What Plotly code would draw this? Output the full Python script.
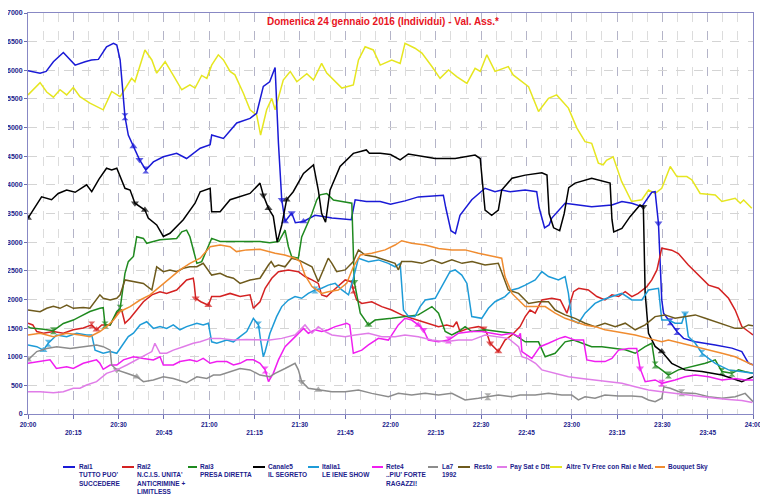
import plotly.graph_objects as go

# ---- data: (minutes after 20:00, value) ----
rai1 = [(0,5990),(4,5950),(6,5980),(8.4,6150),(11.7,6310),(15.6,6090),(18.9,6150),(21,6180),(23.3,6190),(26,6410),(28.3,6470),(29.4,6440),(30.5,6180),(32.1,5190),(33.2,4870),(34.9,4670),(36.9,4440),(39,4260),(41.5,4400),(44.8,4490),(49.2,4550),(52.5,4460),(57,4640),(60.3,4700),(60.8,4870),(64.7,4810),(69.1,5080),(73.5,5160),(75.7,5250),(77.9,5720),(80,5800),(81.8,6050),(82.9,4730),(84,3740),(85.1,3360),(87.3,3510),(88.5,3340),(91.2,3360),(95,3470),(97.2,3450),(100.6,3420),(107,3390),(108.3,3740),(112,3710),(116.6,3710),(120,3660),(124.8,3720),(129.2,3790),(137.5,3820),(138.3,3600),(140,3200),(141.5,3150),(143,3470),(146.9,3740),(151.3,3940),(154.6,3880),(156.8,3910),(159.6,3880),(164.6,3910),(168.4,3880),(169.2,3600),(171,3250),(172.5,3300),(173.4,3420),(177.8,3680),(182.2,3650),(186.6,3620),(193.3,3650),(196.6,3710),(199.9,3680),(203.2,3620),(206.5,3870),(207.6,3880),(208.7,3330),(209.8,1990),(210.4,1760),(212.6,1610),(214.8,1440),(217,1320),(220.9,1260),(227.5,1205),(233,1150),(236.3,1090),(238.5,890),(240,860)]
rai2 = [(0,1585),(1.6,1555),(2.9,1440),(5.1,1410),(8.4,1440),(11.7,1410),(15,1470),(18.3,1500),(21.1,1555),(22.7,1470),(24.4,1555),(27.2,1555),(29.4,1760),(31,1815),(32.1,1585),(33.8,1670),(36,1815),(38.2,1960),(41,2080),(43.7,2135),(45.9,2105),(49.2,2165),(51.4,2280),(52.5,2340),(54.7,2370),(55,2280),(55.5,2020),(57.2,1960),(59.7,1900),(60.8,2050),(63.6,2050),(66.9,2105),(70.2,2050),(73.5,2080),(74.6,1845),(76.8,1960),(78.5,2195),(80.7,2370),(82.9,2485),(86.2,2515),(89.5,2485),(91.7,2400),(94,2340),(96.1,2280),(97.2,2080),(98.9,2050),(100.6,2135),(102.7,2225),(105,2340),(107,2310),(107.7,2165),(108.8,1990),(110.5,1930),(113.8,1960),(117.1,1875),(120.4,1815),(123.7,1730),(127,1670),(130.4,1610),(133.7,1555),(135.9,1525),(138.6,1555),(140.8,1525),(141.9,1610),(143,1440),(145.8,1495),(149.1,1525),(150.8,1495),(151.9,1410),(153,1235),(155.7,1090),(157.9,1290),(160.2,1380),(162.9,1525),(164.6,1700),(166.2,1815),(167.9,1760),(170.1,1990),(173.4,2020),(176.2,1990),(178.4,1760),(180.6,2135),(182.3,2195),(185.5,2165),(188.3,2050),(191,1990),(193.3,2080),(195.5,2050),(197.7,2135),(199.9,2050),(202,2105),(204.9,2225),(206.5,2340),(208.2,2515),(209.8,2895),(213.1,2860),(215.3,2800),(218.6,2600),(221.9,2425),(225.3,2250),(228.6,2195),(231.9,2020),(234.1,1815),(236.3,1525),(238.5,1440),(240,1380)]
rai3 = [(0,1525),(1,1500),(5.1,1480),(8.4,1455),(11.7,1580),(15,1640),(17.2,1700),(20.5,1790),(23.8,1845),(24.9,1855),(25.5,1555),(27.2,1555),(29.4,1790),(30.5,1845),(32.1,2455),(33.2,2660),(34.9,2750),(36,3095),(38.2,3065),(39.3,2980),(41.5,3010),(43.7,3040),(45.9,3050),(49.2,3065),(50.9,3180),(52.5,3210),(53.6,3095),(54.7,2860),(55.9,2630),(57.5,2660),(59.2,2860),(60.8,3065),(63.6,3010),(68,3010),(72.4,3010),(76.8,3010),(80,2990),(83,3010),(85.1,3210),(86.2,2920),(87.3,2745),(89.5,2720),(90.6,3090),(94,3500),(95.6,3740),(96.7,3825),(98.9,3850),(101.1,3735),(104.4,3705),(107.2,3680),(108,2310),(110,1760),(112.7,1555),(114.9,1640),(120.4,1670),(124.8,1700),(129.2,1730),(133.7,1875),(135.9,1760),(138.1,1440),(140.3,1380),(142.5,1440),(144.7,1525),(146.9,1440),(151.3,1470),(155.7,1440),(160.2,1410),(162.9,1320),(164.6,1260),(169,1260),(171.2,1000),(174.5,1060),(177.8,1260),(180.6,1290),(183.3,1235),(186.6,1175),(190,1175),(193.3,1150),(197.7,1120),(201,1060),(204.3,1175),(206.5,1235),(207.6,855),(209.8,770),(212,680),(215.3,770),(219.8,825),(224.2,885),(227.5,945),(229.7,740),(233,710),(235.2,770),(237.4,740),(240,710)]
canale5 = [(0,3420),(2.3,3620),(4.5,3790),(7.8,3740),(10,3850),(12.8,3910),(15.6,3870),(19.4,4000),(21.1,3880),(23.5,4100),(26,4290),(27.7,4260),(29.4,4290),(32.1,3940),(33.8,3910),(35.4,3680),(38.7,3560),(39.8,3420),(42.6,3300),(44.8,3100),(47,3155),(51.4,3390),(55.3,3680),(57,3880),(60.3,3940),(60.8,3530),(63.6,3530),(66.9,3740),(70.2,3790),(73.5,3850),(76.8,4030),(77.9,3820),(79.6,3590),(81.2,3450),(82.5,3000),(84,3300),(85.6,3740),(87.8,3880),(91.2,4200),(94.5,4350),(96.1,3910),(97.2,3500),(98.5,3350),(100,3910),(103.3,4320),(107.7,4550),(112,4610),(113,4550),(116.6,4550),(120,4530),(123.2,4435),(125.9,4540),(134.8,4460),(141.4,4460),(148,4520),(149.7,4460),(151.3,3560),(153.5,3470),(155.7,3560),(156.8,3910),(160.2,4115),(164.6,4170),(170.1,4210),(171.8,4170),(172.5,3500),(174,3250),(176,3200),(177.5,3500),(179,3950),(181.1,4030),(186.6,4115),(191,4057),(192.7,4030),(193.3,3400),(193.9,3180),(196.6,3240),(199.3,3445),(202.6,3650),(203.7,3620),(204.3,2110),(205.4,1410),(207.6,1180),(209.8,1090),(213.1,885),(217.5,770),(223.1,740),(229.7,680),(236.3,565),(240,650)]
italia1 = [(0,1205),(2.9,1175),(5.1,1115),(6.7,1235),(9.5,1380),(12.8,1350),(16.1,1410),(19.4,1380),(21.1,1380),(22.2,1115),(24.9,1060),(27.2,1090),(29.4,1060),(31,1175),(33.2,1350),(34.9,1410),(37.1,1555),(39.3,1610),(41.5,1495),(43.7,1525),(45.9,1495),(48.1,1555),(50.3,1470),(52.5,1525),(55.9,1585),(58,1555),(59.7,1585),(60.8,1260),(62.5,1235),(65.8,1290),(68,1260),(70.2,1350),(72.4,1440),(74.6,1670),(76.3,1555),(77,1290),(77.9,1000),(78.5,1090),(80.1,1410),(82.3,1700),(84,1875),(86.2,1990),(88.4,2050),(90.6,2020),(92.8,2105),(95,2165),(97.2,2195),(99.4,2250),(101.7,2280),(103.9,2165),(106.1,2080),(107.7,2370),(109.4,2720),(112.7,2660),(116,2690),(119.3,2630),(121.5,2570),(123.2,2630),(124.3,1815),(126,1700),(128.1,1700),(129.8,1875),(131.5,1990),(134.8,2020),(137,2225),(139.7,2485),(141.4,2515),(143.6,2425),(145.3,2280),(146.9,1700),(150.2,1670),(152.4,1845),(154.6,1960),(157.9,2050),(160.2,2165),(162.4,2195),(164.6,2250),(167.9,2340),(170.1,2485),(172.3,2400),(175.6,2340),(177.8,2400),(178.9,2105),(180,1640),(182.2,1585),(184.4,1760),(187.7,1930),(190,1990),(193.3,2050),(196.6,2105),(199.9,1990),(203.2,1990),(205.4,2165),(208.7,2195),(209.8,1640),(212,1640),(214.2,1585),(216.4,1585),(217.5,1760),(218.6,1350),(220.9,1235),(223.1,1060),(225.3,970),(227.5,885),(231.9,770),(236.3,740),(240,710)]
rete4 = [(0,885),(4,915),(7.3,945),(9.4,795),(12.8,825),(15,795),(18.3,885),(20.5,915),(22.7,945),(23.8,885),(24.9,780),(27.2,855),(29.4,855),(31.6,945),(34.9,1000),(38.2,970),(41.5,945),(43.7,1000),(44.8,855),(48.1,855),(50.3,915),(53.6,945),(55.9,915),(58,970),(60.3,885),(62.5,915),(65.8,915),(68,855),(70.2,885),(72.4,945),(74.6,945),(76.8,885),(78.5,770),(79.6,565),(81.2,710),(82.9,945),(85.1,1175),(87.3,1290),(89.5,1410),(91.2,1495),(92.8,1410),(95,1470),(97.2,1440),(99.4,1470),(101.7,1525),(103.9,1555),(105.5,1585),(106.5,1555),(107.7,1060),(110.5,1115),(112.7,1205),(116,1320),(119.3,1290),(122.6,1555),(124.8,1670),(127,1640),(129.2,1555),(130.9,1470),(132.5,1290),(135.9,1260),(139.2,1290),(142.5,1410),(146.9,1440),(150.2,1440),(153.5,1410),(156.8,1380),(160.2,1410),(162.4,1350),(163,1410),(163.5,1090),(166.8,970),(169.5,1175),(172.3,1235),(175.9,1320),(177.8,1350),(181.1,1290),(183.9,1290),(185,945),(187.7,915),(191,915),(193.3,970),(195.5,1115),(198.8,1145),(201.5,1145),(202.6,800),(204.3,565),(207.6,595),(209.8,535),(214.2,595),(217.5,650),(220.9,680),(225.3,650),(229.7,595),(234.1,620),(237.4,595),(240,595)]
la7 = [(0,945),(2.9,1090),(6.2,1145),(9.5,1175),(14,1145),(18.3,1175),(22.7,1205),(24.9,1175),(27.2,1115),(27.7,855),(29.4,770),(32.7,710),(36,650),(38.2,565),(41.5,595),(44.8,650),(48.1,620),(52.5,545),(55.9,650),(59.2,620),(61.4,680),(63.6,680),(66.9,740),(70.2,795),(73.5,770),(76.8,680),(80,650),(81.8,710),(85.1,795),(88.4,885),(89.5,770),(90.6,565),(92.8,450),(96.1,420),(100.6,390),(105,390),(109.4,420),(113.8,360),(119.3,300),(122.6,360),(127,330),(131.5,360),(135.9,330),(140.3,360),(144.7,245),(149.1,275),(152.2,300),(155.7,330),(160.2,300),(162.9,330),(167.9,330),(172.3,360),(176.7,330),(180,330),(182.2,245),(184.4,300),(187.7,275),(191,330),(195.5,315),(199.9,315),(203.2,300),(205.4,245),(207.6,215),(209.8,275),(210.5,475),(212.6,450),(216.4,370),(220.9,360),(225.3,300),(229.7,275),(234.1,300),(237.4,360),(240,215)]
resto = [(0,1815),(4,1785),(6.2,1845),(8.4,1880),(10.6,1845),(12.8,1900),(15,1845),(18.3,1860),(20.5,1845),(23.8,2080),(24.9,2020),(27.2,1990),(29.4,2020),(30.5,2080),(32.1,2340),(34.9,2310),(38.2,2280),(41,2165),(42.6,2570),(44.8,2485),(47,2515),(49.2,2485),(51.4,2545),(53.6,2570),(55.9,2570),(58,2630),(60.8,2425),(63.6,2455),(65.8,2400),(68,2370),(70.2,2280),(73.5,2340),(76.8,2370),(79.6,2600),(80.5,2660),(81.6,2570),(82.9,2600),(85.1,2570),(87.3,2720),(89.5,2690),(91.7,2630),(94,2570),(96.1,2310),(99.4,2720),(100.6,2630),(102.2,2485),(105,2515),(107.7,2660),(109.4,2865),(111.6,2775),(114.9,2745),(118.2,2690),(121.5,2630),(122.6,2515),(123.7,2660),(127,2660),(130.4,2630),(133.7,2690),(137,2630),(140.3,2690),(143.7,2630),(147,2660),(151.3,2600),(155.7,2630),(157.3,2400),(159,2165),(162.4,2105),(163.5,2050),(165.7,1930),(169,1960),(172.3,1960),(174.5,1815),(177.8,1730),(181.1,1670),(184.4,1585),(187.7,1525),(191,1585),(194.4,1525),(197.7,1585),(201,1470),(204.3,1555),(207.6,1700),(210.9,1730),(214.2,1670),(217.5,1700),(220.9,1730),(224.2,1670),(227.5,1610),(230.8,1555),(234.1,1495),(236.3,1495),(238.5,1555),(240,1540)]
pay_sat = [(0,390),(4,390),(8.4,370),(11.7,390),(15,450),(17.2,450),(19.4,505),(22.7,565),(26,710),(29.4,770),(32.7,855),(36,945),(38.7,1030),(41,1090),(42,1235),(43.7,1060),(45.9,1060),(48.1,1115),(51.4,1175),(54.7,1235),(57,1260),(60.3,1320),(63.6,1320),(68,1290),(72.4,1300),(76.8,1290),(80,1290),(84,1320),(88.4,1380),(91.7,1555),(94,1410),(96.1,1525),(98.3,1440),(100.6,1380),(105,1350),(108.3,1380),(112.7,1410),(117.1,1350),(121.5,1350),(124.8,1380),(129.2,1350),(133.7,1290),(138.1,1260),(142.5,1290),(146.9,1290),(151.3,1380),(155.7,1350),(159,1320),(162.4,1175),(163.5,1000),(165.3,970),(168,885),(170.1,770),(174.5,710),(178.9,650),(183.3,620),(187.7,595),(192.2,565),(196.6,535),(201,475),(205.4,420),(209.8,390),(214.2,360),(218.6,330),(223.1,300),(227.5,275),(231.9,255),(236.3,235),(239.8,200)]
altre_tv = [(0,5570),(4,5785),(6.2,5620),(8.4,5530),(10.6,5660),(12.8,5570),(15,5700),(17.2,5540),(20.5,5425),(22.7,5370),(24.9,5310),(27.7,5630),(30.5,5540),(34.3,5860),(35.4,5800),(38.7,6355),(41,6180),(42.6,5950),(45.4,6150),(48.1,5910),(50.9,5660),(53.6,5745),(55.3,5690),(57.5,5910),(59.2,5860),(60.8,6090),(63,6270),(64.7,6180),(66.9,5980),(68.5,5920),(71.3,5600),(73.5,5310),(75.7,5220),(77,4870),(79,5310),(80.7,5510),(81.8,5310),(84.5,5830),(86.8,5980),(89,5800),(92.3,5940),(94.5,5830),(97.2,6120),(98.9,5950),(101.1,5830),(103.9,5690),(107.7,5745),(109.4,6180),(111.6,6410),(114.3,6355),(116.6,6090),(120.4,6180),(123.2,6120),(124.8,6470),(128.1,6385),(130.4,6300),(133.7,6065),(136.4,5860),(139.2,6005),(141.9,5890),(145.3,5770),(148,6035),(149.7,5980),(151.9,6270),(154.6,5980),(159,6065),(160.6,5920),(165.7,5715),(169,5280),(172.3,5510),(175,5570),(178.9,5340),(181.7,4990),(184.4,4755),(186.6,4725),(188.8,4380),(190.4,4350),(191.5,4430),(193.7,4490),(196.5,4060),(199.8,3710),(203.2,3740),(205.4,3910),(207.6,3850),(209.8,3940),(212.6,4320),(214.8,4145),(218.1,4145),(219.8,4085),(222.5,3850),(227.5,3825),(229.7,3710),(234.1,3765),(235.8,3680),(236.9,3735),(239.6,3590)]
bouquet_sky = [(0,1380),(4,1410),(8.4,1350),(12.8,1410),(17.2,1380),(20.5,1350),(23.8,1440),(26,1525),(28.3,1640),(30.5,1790),(33.8,1875),(37.1,1990),(40.4,2080),(43.7,2225),(47,2370),(50.3,2515),(53.6,2630),(57,2720),(60.3,2920),(63.6,2950),(66.9,2920),(69,2835),(72.4,2865),(76.8,2875),(81.8,2805),(85,2775),(88.4,2720),(90.1,2660),(91.7,2425),(94,2225),(97.2,2105),(99.4,2135),(102.7,2165),(105.5,2280),(107.7,2570),(110,2775),(113.8,2805),(118.2,2865),(121.5,2950),(123.7,3025),(127,2980),(131.5,2950),(135.9,2890),(140.3,2865),(144.7,2865),(149.1,2805),(154.6,2745),(156.8,2720),(157.9,2400),(160.2,2105),(162.4,1990),(164.6,1875),(168,1875),(171.2,1875),(174.5,1760),(177.8,1670),(181.1,1610),(184.4,1555),(187.7,1525),(191,1470),(194.4,1440),(197.7,1410),(201,1380),(205.4,1320),(209.8,1260),(212,1290),(216.4,1235),(220.9,1175),(225.3,1120),(229.7,1060),(234.1,1000),(238.5,885),(240,855)]

# programme start/end markers: (minute, symbol)
rai1_marks = [(32.1,'hourglass'),(34.9,'triangle-up'),(36.9,'triangle-down'),(39,'hourglass'),(84,'triangle-down'),(85.1,'triangle-up'),(87.3,'triangle-down'),(91.2,'triangle-up'),(208.7,'triangle-down'),(212.6,'hourglass'),(214.8,'hourglass')]
rai2_marks = [(21.1,'hourglass'),(22.7,'triangle-up'),(55.5,'triangle-down'),(59.7,'triangle-up'),(107.7,'hourglass'),(150.8,'triangle-down'),(153,'triangle-down'),(155.7,'triangle-up')]
rai3_marks = [(8.4,'hourglass'),(25.5,'hourglass'),(30.5,'hourglass'),(108,'triangle-down'),(112.7,'triangle-up'),(207.6,'hourglass'),(212,'hourglass'),(229.7,'hourglass'),(233,'hourglass')]
canale5_marks = [(0,'triangle-up'),(35.4,'triangle-down'),(38.7,'triangle-up'),(77.9,'triangle-down'),(79.6,'triangle-up'),(85.6,'triangle-up'),(203.7,'triangle-down'),(209.8,'triangle-up')]
italia1_marks = [(5.1,'triangle-up'),(6.7,'hourglass'),(76.3,'hourglass'),(95,'hourglass'),(217.5,'triangle-down'),(223.1,'hourglass')]
rete4_marks = [(78.5,'hourglass'),(129.2,'triangle-up'),(130.9,'triangle-down'),(139.2,'hourglass'),(202.6,'triangle-down'),(209.8,'hourglass')]
la7_marks = [(0,'triangle-up'),(29.4,'triangle-down'),(36,'triangle-up'),(90.6,'triangle-down'),(96.1,'triangle-up'),(152.2,'hourglass'),(216.4,'hourglass')]

names = ["Rai1<br>TUTTO PUO'<br>SUCCEDERE", "Rai2<br>N.C.I.S. UNITA'<br>ANTICRIMINE +<br>LIMITLESS",
         "Rai3<br>PRESA DIRETTA", "Canale5<br>IL SEGRETO", "Italia1<br>LE IENE SHOW",
         "Rete4<br>..PIU' FORTE<br>RAGAZZI!", "La7<br>1992", "Resto", "Pay Sat e Dtt",
         "Altre Tv Free con Rai e Med.", "Bouquet Sky"]
series = [rai1, rai2, rai3, canale5, italia1, rete4, la7, resto, pay_sat, altre_tv, bouquet_sky]
marks = [rai1_marks, rai2_marks, rai3_marks, canale5_marks, italia1_marks, rete4_marks, la7_marks, [], [], [], []]
colors = ["#1a1ad6", "#d42222", "#1f8a1f", "#000000", "#1e9bd7", "#f01ef0", "#8c8c8c",
          "#6e5a1c", "#e07ce8", "#e6e620", "#f08c30"]

tick_vals = list(range(0, 241, 15))
tick_labels = ["20:00", "20:15", "20:30", "20:45", "21:00", "21:15", "21:30", "21:45", "22:00",
               "22:15", "22:30", "22:45", "23:00", "23:15", "23:30", "23:45", "24:00"]
y_ticks = list(range(0, 7001, 500))

NAVY = "#1c1c8c"
FONT = "Liberation Sans, Arial, sans-serif"

fig = go.Figure()
draw_order = [9, 0, 1, 2, 3, 4, 5, 6, 7, 8, 10]
for i in draw_order:
    t = [p[0] for p in series[i]]
    v = [p[1] for p in series[i]]
    sizes = [0] * len(t)
    syms = ["circle"] * len(t)
    for tm, sym in marks[i]:
        k = min(range(len(t)), key=lambda j: abs(t[j] - tm))
        sizes[k] = 7
        syms[k] = sym
    fig.add_trace(go.Scatter(
        x=t, y=v, name=names[i], mode="lines+markers" if marks[i] else "lines",
        line=dict(color=colors[i], width=1.5),
        marker=dict(size=sizes, symbol=syms, color=colors[i], line=dict(width=0)),
        showlegend=False))

# ---- layout geometry (page pixels; page body has an 8px margin) ----
OFF = 8
W, H = 768 - OFF, 499 - OFF
PL, PT, PR, PB = 28, 13, 753, 414          # plot area in page pixels
L, T = PL - OFF, PT - OFF
R, B = W - (PR - OFF), H - (PB - OFF)
PW, PH = PR - PL, PB - PT
def px_x(px):
    return (px - PL) / PW
def px_y(py):
    return (PB - py) / PH

legend_pos = [(63, 75, 78), (122, 134, 136), (188, 197, 199), (253, 265, 267), (308, 319, 321),
              (372, 383, 385), (428, 438, 441), (458, 470, 473), (497, 507, 509), (550, 562, 565),
              (655, 665, 667)]
shapes = []
annotations = []
for i, (x0, x1, xt) in enumerate(legend_pos):
    shapes.append(dict(type="line", xref="paper", yref="paper", x0=px_x(x0), x1=px_x(x1),
                       y0=px_y(467), y1=px_y(467), line=dict(color=colors[i], width=2)))
    annotations.append(dict(xref="paper", yref="paper", x=px_x(xt), y=px_y(462), xanchor="left",
                            yanchor="top", align="left", showarrow=False, text=names[i],
                            font=dict(family=FONT, size=6.5, color=NAVY, weight="bold"),
                            borderpad=0))

fig.update_layout(
    width=W, height=H,
    margin=dict(l=L, r=R, t=T, b=B, pad=0, autoexpand=False),
    paper_bgcolor="white", plot_bgcolor="white",
    title=dict(text="Domenica 24 gennaio 2016 (Individui) - Val. Ass.*",
               x=(383 - OFF) / W, xref="container", xanchor="center",
               y=1 - (21 - OFF) / H, yref="container", yanchor="middle",
               font=dict(family=FONT, size=10, color="#e8141e", weight="bold")),
    shapes=shapes, annotations=annotations,
    xaxis=dict(range=[0, 240], tickvals=tick_vals, automargin=False,
               ticktext=[lab if k % 2 == 0 else "<br>" + lab for k, lab in enumerate(tick_labels)],
               tickfont=dict(family=FONT, size=6.5, color=NAVY, weight="bold"),
               ticks="outside", ticklen=4, tickcolor="#6c6cb0", tickangle=0,
               showline=True, linecolor="#8888c4", linewidth=1, mirror=True,
               showgrid=True, gridcolor="#b4b4c8", griddash="dash", gridwidth=1,
               minor=dict(dtick=5, tick0=0, showgrid=True, gridcolor="#dcdcdc", griddash="dash",
                          gridwidth=1),
               zeroline=False),
    yaxis=dict(range=[0, 7000], tickvals=y_ticks, automargin=False,
               tickfont=dict(family=FONT, size=7, color=NAVY, weight="bold"),
               ticks="outside", ticklen=3, tickcolor="#6c6cb0",
               showline=True, linecolor="#8888c4", linewidth=1, mirror=True,
               showgrid=True, gridcolor="#d4d4d4", griddash="dash", gridwidth=1,
               zeroline=False),
)

fig.write_html("out.html")
